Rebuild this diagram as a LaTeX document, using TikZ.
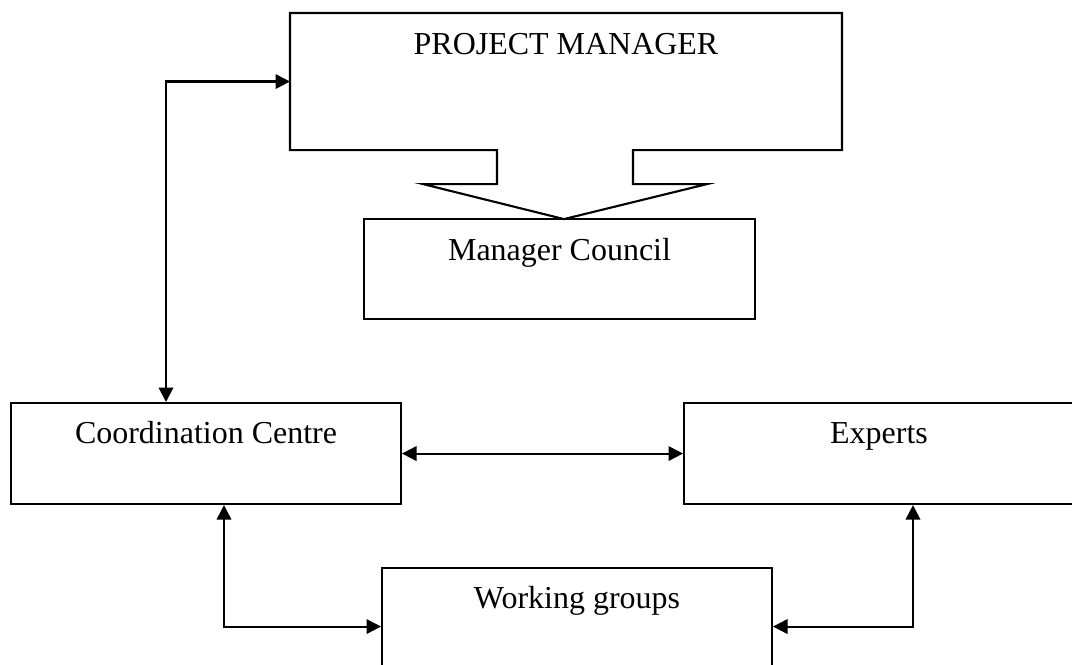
\documentclass[tikz,border=0pt]{standalone}
\usepackage{fontspec}
\setmainfont{Liberation Serif}
\usetikzlibrary{arrows.meta,calc,positioning}

\begin{document}
\begin{tikzpicture}
[x=0.02cm,y=-0.02cm,line width=1.2pt,>={Triangle[length=2.9mm,width=2.9mm]},
 unit/.style={draw,anchor=north west,inner sep=0pt,minimum width=7.8cm,
   font=\fontsize{18.2}{22}\selectfont,text height=0.8cm,text depth=1.22cm}]
\clip (0,0) rectangle (1072,664);
\node[unit] (cc) at (10,402) {Coordination Centre};
\node[unit] (ex) at (683,402) {Experts};
\node[unit] (wg) at (381,567) {Working groups};
\node[unit,minimum width=7.82cm,text height=0.82cm,text depth=1.18cm] (mc) at (363,218) {Manager Council};
\node[unit,draw=none,minimum width=11cm,text height=0.8cm,text depth=1.9cm] (pm) at (290,13) {PROJECT MANAGER};
% callout round the manager box
\draw (pm.south west) -- (pm.north west) -- (pm.north east) -- (pm.south east)
  -- ($(pm.south)+(67,0)$) -- ++(0,34) -- ++(74,0) -- ++(-143,35)
  -- ++(-141,-35) -- ++(74,0) -- ++(0,-34) -- cycle;
\draw[<->] (pm.west) -| ($(cc.north west)+(156,0)$);
\draw[<->] (cc.east) -- (ex.west);
\draw[<->] ($(cc.south west)+(214,0)$) |- ($(wg.west)+(0,8)$);
\draw[<->] ($(ex.south west)+(230,0)$) |- ($(wg.east)+(0,8)$);
\end{tikzpicture}
\end{document}
